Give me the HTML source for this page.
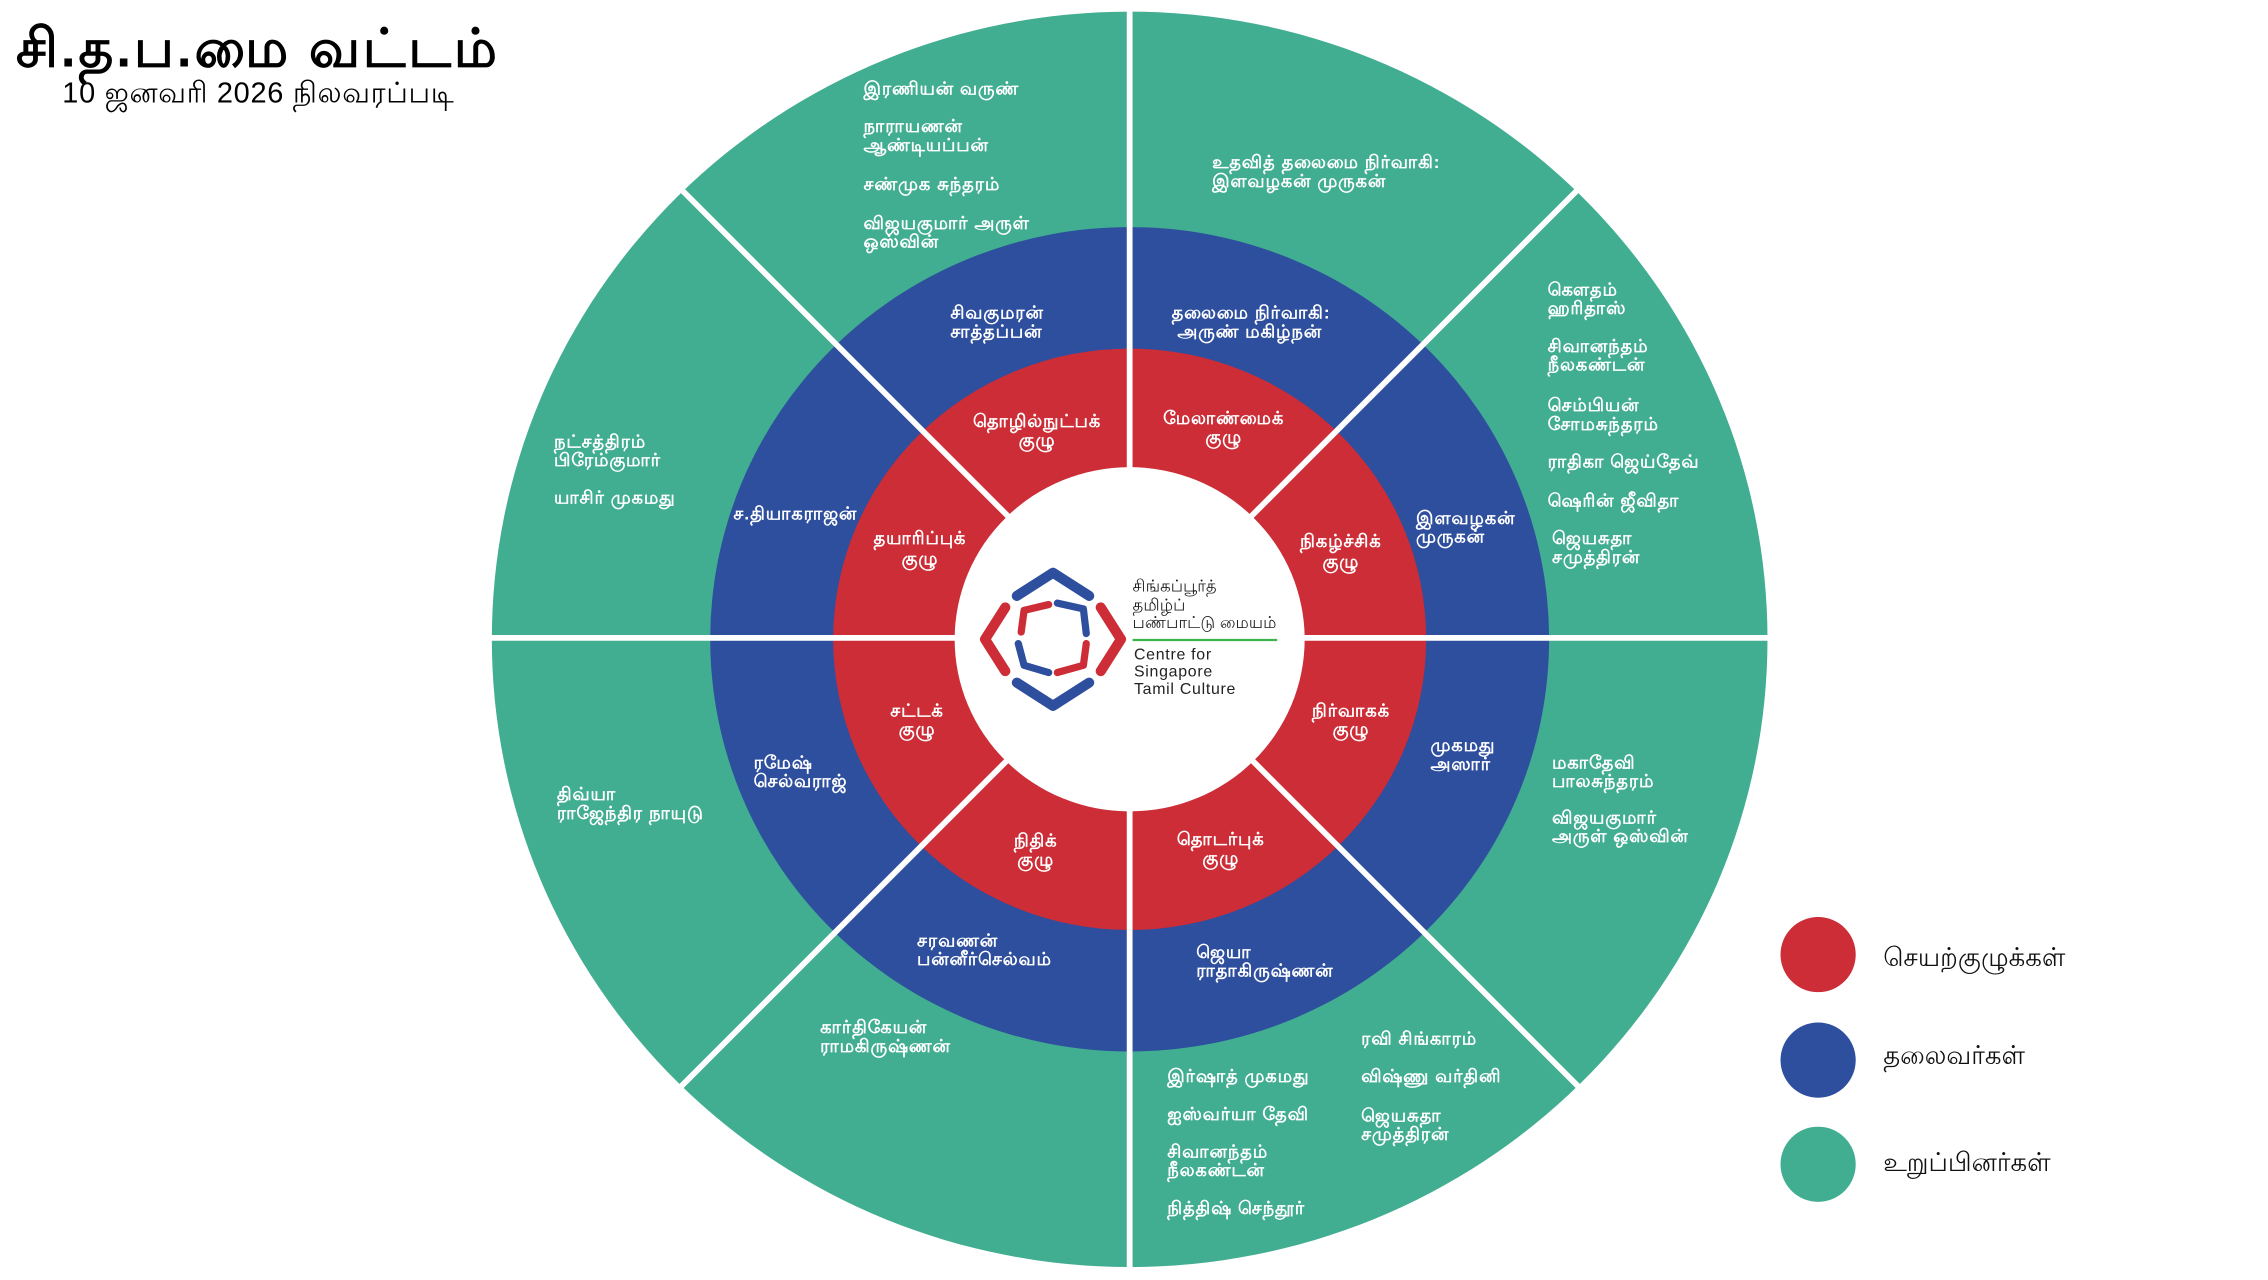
<!DOCTYPE html>
<html><head><meta charset="utf-8"><style>
html,body{margin:0;padding:0;background:#fff;}
svg{display:block;}
text{font-family:"Liberation Sans","DejaVu Sans",sans-serif;}
.w{fill:#fff;font-weight:bold;font-size:12.3px;letter-spacing:0.7px;dominant-baseline:middle;}
.c{text-anchor:middle;}
</style></head><body>
<svg width="2268" height="1280" viewBox="0 0 1568 885" xmlns="http://www.w3.org/2000/svg">
<rect width="1568" height="885" fill="#fff"/>
<ellipse cx="781" cy="442" rx="441" ry="434" fill="#41AD91"/>
<ellipse cx="781" cy="442" rx="290" ry="285" fill="#2E4E9E"/>
<ellipse cx="781" cy="442" rx="205" ry="201" fill="#CC2D37"/>
<g stroke="#fff" stroke-width="4">
<line x1="781" y1="0" x2="781" y2="885"/>
<line x1="330" y1="441" x2="1232" y2="441"/>
<line x1="461" y1="121" x2="1101" y2="761"/>
<line x1="1101" y1="121" x2="461" y2="761"/>
</g>
<ellipse cx="781" cy="442" rx="121" ry="119" fill="#fff"/>

<!-- logo -->
<g fill="none" stroke-linecap="round" stroke-linejoin="round" transform="translate(728,442)">
<polyline points="-25,-30 0,-46 25,-30" stroke="#2E4E9E" stroke-width="7"/>
<polyline points="-25,30 0,46 25,30" stroke="#2E4E9E" stroke-width="7"/>
<polyline points="-33,-22 -47,0 -33,22" stroke="#CC2D37" stroke-width="7"/>
<polyline points="33,-22 47,0 33,22" stroke="#CC2D37" stroke-width="7"/>
<polyline points="-22,-5 -20,-20 -3,-24" stroke="#CC2D37" stroke-width="5"/>
<polyline points="3,-25 21,-21 23,-4" stroke="#2E4E9E" stroke-width="5"/>
<polyline points="23,3 21,18 3,23" stroke="#CC2D37" stroke-width="5"/>
<polyline points="-24,3 -20,18 -3,23" stroke="#2E4E9E" stroke-width="5"/>
</g>
<g font-size="11.5" fill="#222" dominant-baseline="middle">
<text x="783" y="406">சிங்கப்பூர்த்</text>
<text x="783" y="419">தமிழ்ப்</text>
<text x="783" y="431">பண்பாட்டு மையம்</text>
<text x="784" y="453" font-size="11" letter-spacing="0.5">Centre for</text>
<text x="784" y="465" font-size="11" letter-spacing="0.5">Singapore</text>
<text x="784" y="477" font-size="11" letter-spacing="0.5">Tamil Culture</text>
</g>
<line x1="783" y1="442.5" x2="883" y2="442.5" stroke="#3BB54A" stroke-width="1.5"/>

<!-- title -->
<text x="11" y="46" font-size="37" font-weight="bold" fill="#000" letter-spacing="2">சி.த.ப.மை வட்டம்</text>
<text x="43" y="71" font-size="20" fill="#000" letter-spacing="0.5">10 ஜனவரி 2026 நிலவரப்படி</text>

<!-- green outer -->
<g class="w">
<text x="597" y="62">இரணியன் வருண்</text>
<text x="597" y="88">நாராயணன்</text><text x="597" y="101">ஆண்டியப்பன்</text>
<text x="597" y="128">சண்முக சுந்தரம்</text>
<text x="597" y="155">விஜயகுமார் அருள்</text><text x="597" y="168">ஒஸ்வின்</text>

<text x="838" y="113">உதவித் தலைமை நிர்வாகி:</text><text x="838" y="126">இளவழகன் முருகன்</text>

<text x="1070" y="201">கௌதம்</text><text x="1070" y="214">ஹரிதாஸ்</text>
<text x="1070" y="240">சிவானந்தம்</text><text x="1070" y="253">நீலகண்டன்</text>
<text x="1070" y="281">செம்பியன்</text><text x="1070" y="294">சோமசுந்தரம்</text>
<text x="1070" y="320">ராதிகா ஜெய்தேவ்</text>
<text x="1070" y="347">ஷெரின் ஜீவிதா</text>
<text x="1073" y="373">ஜெயசுதா</text><text x="1073" y="386">சமுத்திரன்</text>

<text x="1073" y="528">மகாதேவி</text><text x="1073" y="541">பாலசுந்தரம்</text>
<text x="1073" y="566">விஜயகுமார்</text><text x="1073" y="579">அருள் ஒஸ்வின்</text>

<text x="807" y="745">இர்ஷாத் முகமது</text>
<text x="807" y="771">ஐஸ்வர்யா தேவி</text>
<text x="807" y="797">சிவானந்தம்</text><text x="807" y="810">நீலகண்டன்</text>
<text x="807" y="836">நித்திஷ் செந்தூர்</text>
<text x="941" y="719">ரவி சிங்காரம்</text>
<text x="941" y="745">விஷ்ணு வர்தினி</text>
<text x="941" y="772">ஜெயசுதா</text><text x="941" y="785">சமுத்திரன்</text>

<text x="567" y="711">கார்திகேயன்</text><text x="567" y="724">ராமகிருஷ்ணன்</text>
<text x="385" y="550">திவ்யா</text><text x="385" y="563">ராஜேந்திர நாயுடு</text>
<text x="383" y="306">நட்சத்திரம்</text><text x="383" y="319">பிரேம்குமார்</text>
<text x="383" y="345">யாசிர் முகமது</text>

<!-- blue -->
<text x="657" y="217">சிவகுமரன்</text><text x="657" y="230">சாத்தப்பன்</text>
<text x="810" y="217">தலைமை நிர்வாகி:</text><text x="814" y="230">அருண் மகிழ்நன்</text>
<text x="979" y="359">இளவழகன்</text><text x="979" y="372">முருகன்</text>
<text x="989" y="516">முகமது</text><text x="989" y="529">அஸார்</text>
<text x="827" y="659">ஜெயா</text><text x="827" y="672">ராதாகிருஷ்ணன்</text>
<text x="634" y="651">சரவணன்</text><text x="634" y="664">பன்னீர்செல்வம்</text>
<text x="521" y="528">ரமேஷ்</text><text x="521" y="541">செல்வராஜ்</text>
<text x="507" y="356">ச.தியாகராஜன்</text>
</g>
<!-- red -->
<g class="w c">
<text x="717" y="292">தொழில்நுட்பக்</text><text x="717" y="305">குழு</text>
<text x="846" y="290">மேலாண்மைக்</text><text x="846" y="303">குழு</text>
<text x="927" y="375">நிகழ்ச்சிக்</text><text x="927" y="389">குழு</text>
<text x="934" y="492">நிர்வாகக்</text><text x="934" y="505">குழு</text>
<text x="844" y="581">தொடர்புக்</text><text x="844" y="594">குழு</text>
<text x="716" y="582">நிதிக்</text><text x="716" y="595">குழு</text>
<text x="634" y="492">சட்டக்</text><text x="634" y="505">குழு</text>
<text x="636" y="373">தயாரிப்புக்</text><text x="636" y="387">குழு</text>
</g>

<!-- legend -->
<circle cx="1257" cy="660" r="26" fill="#CC2D37"/>
<circle cx="1257" cy="733" r="26" fill="#2E4E9E"/>
<circle cx="1257" cy="805" r="26" fill="#41AD91"/>
<g font-size="18" fill="#111" dominant-baseline="middle">
<text x="1302" y="663">செயற்குழுக்கள்</text>
<text x="1302" y="731">தலைவர்கள்</text>
<text x="1302" y="805">உறுப்பினர்கள்</text>
</g>
</svg>
</body></html>
